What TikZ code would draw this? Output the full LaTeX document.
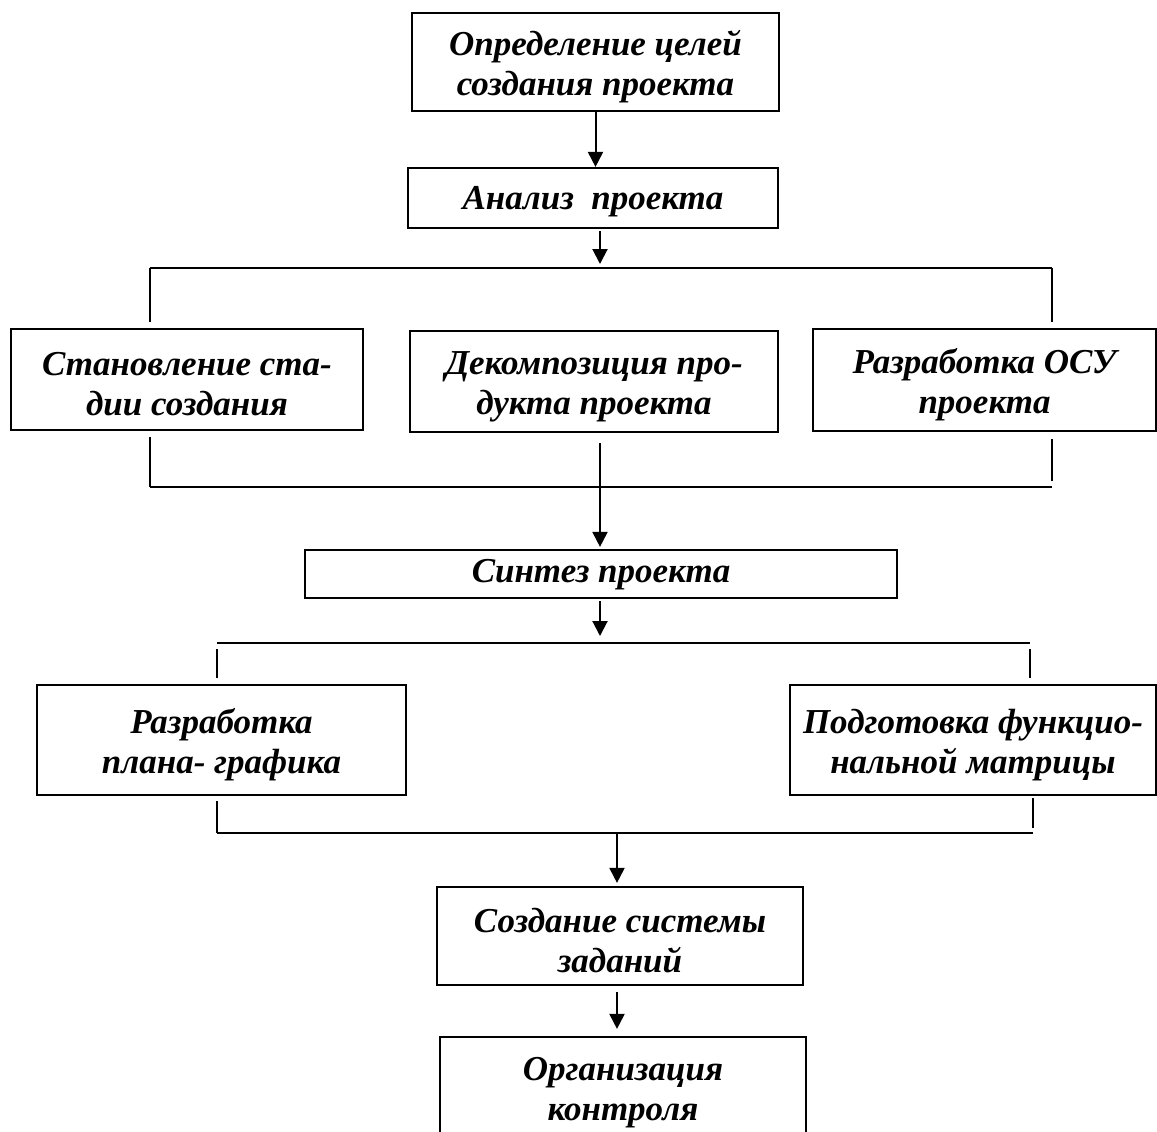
\documentclass[tikz,border=0pt]{standalone}
\usepackage{fontspec}
\setmainfont{Liberation Serif}
\usetikzlibrary{arrows.meta}

\tikzset{
  box/.style={draw, line width=1.1pt, inner sep=0pt},
  txt/.style={align=center, inner sep=0pt,
    font=\fontsize{17.5}{20}\selectfont\bfseries\itshape},
  link/.style={line width=1pt},
  arr/.style={link, -{Triangle[length=7.5pt, width=7.5pt]}}
}

\begin{document}
\begin{tikzpicture}[x=0.5pt, y=-0.5pt]
  \useasboundingbox (0,0) rectangle (1157,1131);
  \clip (0,0) rectangle (1157,1131);

  % process boxes
  \node[box, minimum width=183.5pt, minimum height=49pt] (b1) at (595.5,62) {};
  \node[box, minimum width=185pt, minimum height=30pt] (b2) at (593,198) {};
  \node[box, minimum width=176pt, minimum height=50.5pt] (b3a) at (187,379.5) {};
  \node[box, minimum width=184pt, minimum height=50.5pt] (b3b) at (594,381.5) {};
  \node[box, minimum width=171.5pt, minimum height=51pt] (b3c) at (984.5,380) {};
  \node[box, minimum width=296pt, minimum height=24pt] (b4) at (601,574) {};
  \node[box, minimum width=184.5pt, minimum height=55pt] (b5a) at (221.5,740) {};
  \node[box, minimum width=183pt, minimum height=55pt] (b5b) at (973,740) {};
  \node[box, minimum width=183pt, minimum height=49pt] (b6) at (620,936) {};
  \node[box, minimum width=183pt, minimum height=53pt] (b7) at (623,1090) {};

  % box captions
  \node[txt] (t1) at ([yshift=-2.5pt]b1.center) {Определение целей\\создания проекта};
  \node[txt] (t2) at ([yshift=-2pt]b2.center) {Анализ\ \ проекта};
  \node[txt] (t3a) at ([yshift=-2.5pt]b3a.center) {Становление ста-\\дии создания};
  \node[txt] (t3b) at ([yshift=-2.5pt]b3b.center) {Декомпозиция про-\\дукта проекта};
  \node[txt] (t3c) at ([yshift=-2.5pt]b3c.center) {Разработка ОСУ\\проекта};
  \node[txt] (t4) at ([yshift=-0.5pt]b4.center) {Синтез проекта};
  \node[txt] (t5a) at ([yshift=-2.5pt]b5a.center) {Разработка\\плана- графика};
  \node[txt] (t5b) at ([yshift=-2.5pt]b5b.center) {Подготовка функцио-\\нальной матрицы};
  \node[txt] (t6) at ([yshift=-2.5pt]b6.center) {Создание системы\\заданий};
  \node[txt] (t7) at ([yshift=-1.5pt]b7.center) {Организация\\контроля};

  % bus junctions
  \coordinate (j1) at (600,268);
  \coordinate (c1L) at (150,268);
  \coordinate (c1R) at (1052,268);
  \coordinate (c2L) at (150,487);
  \coordinate (c2R) at (1052,487);
  \coordinate (m2) at (600,487);
  \coordinate (j3) at (600,643);
  \coordinate (c3L) at (217,643);
  \coordinate (c3R) at (1030,643);
  \coordinate (c4L) at (217,833);
  \coordinate (c4R) at (1033,833);
  \coordinate (j4) at (617,833);

  % top sequence
  \draw[arr] (b1.south) -- (b1.south |- b2.north);
  \draw[arr, shorten <=1pt, shorten >=2pt] (b2.south -| j1) -- (j1);

  % first fork
  \draw[link] (c1L) -- (c1R);
  \draw[link, shorten >=3pt] (c1L) -- (c1L |- b3a.north);
  \draw[link, shorten >=3pt] (c1R) -- (c1R |- b3c.north);

  % first join
  \draw[link, shorten <=3pt] (b3a.south -| c2L) -- (c2L);
  \draw[link, shorten <=3.5pt, shorten >=3pt] (b3c.south -| c2R) -- (c2R);
  \draw[link] (c2L) -- (c2R);
  \draw[arr, shorten <=5pt, shorten >=1pt] (b3b.south -| m2) -- (b4.north -| m2);

  % second fork
  \draw[arr, shorten <=1pt, shorten >=3.5pt] (b4.south -| j3) -- (j3);
  \draw[link] (c3L) -- (c3R);
  \draw[link, shorten <=3pt, shorten >=3pt] (c3L) -- (c3L |- b5a.north);
  \draw[link, shorten <=3pt, shorten >=3pt] (c3R) -- (c3R |- b5b.north);

  % second join
  \draw[link, shorten <=2.5pt] (b5a.south -| c4L) -- (c4L);
  \draw[link, shorten <=1pt, shorten >=2.5pt] (b5b.south -| c4R) -- (c4R);
  \draw[link] (c4L) -- (c4R);
  \draw[arr, shorten >=1.5pt] (j4) -- (b6.north -| j4);

  % final step
  \draw[arr, shorten <=3pt, shorten >=3.5pt] (b6.south -| j4) -- (b7.north -| j4);
\end{tikzpicture}
\end{document}
